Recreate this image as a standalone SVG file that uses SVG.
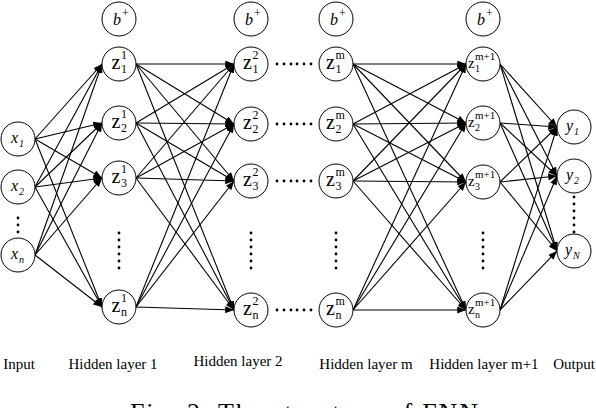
<svg xmlns="http://www.w3.org/2000/svg" width="596" height="408" viewBox="0 0 596 408">
<style>
.n{fill:#fff;stroke:#000;stroke-width:1}
.e line{stroke:#000;stroke-width:1.1;marker-end:url(#ah)}
.z{font-family:"Liberation Serif",serif;font-size:20px;fill:#000}
.zs{font-family:"Liberation Serif",serif;font-size:12px;fill:#000}
.z2{font-family:"Liberation Serif",serif;font-size:15px;fill:#000}
.zs2{font-family:"Liberation Serif",serif;font-size:11px;fill:#000}
.zs3{font-family:"Liberation Serif",serif;font-size:10px;fill:#000}
.it{font-family:"Liberation Serif",serif;font-style:italic;font-size:16px;fill:#000}
.its{font-family:"Liberation Serif",serif;font-style:italic;font-size:10px;fill:#000}
.lb{font-family:"Liberation Serif",serif;font-size:15px;fill:#000;text-anchor:middle}
.d circle{fill:#000}
</style>
<defs>
<marker id="ah" viewBox="0 0 10 8" refX="10" refY="4" markerWidth="9" markerHeight="7" markerUnits="userSpaceOnUse" orient="auto"><path d="M0,0 L10,4 L0,8 z" fill="#000"/></marker>
</defs>
<g id="connectors" class="e">
<line x1="35" y1="139" x2="102" y2="64"/><line x1="35" y1="139" x2="102" y2="123"/><line x1="35" y1="139" x2="102" y2="178"/><line x1="35" y1="139" x2="102" y2="307"/>
<line x1="35" y1="187" x2="102" y2="64"/><line x1="35" y1="187" x2="102" y2="123"/><line x1="35" y1="187" x2="102" y2="178"/><line x1="35" y1="187" x2="102" y2="307"/>
<line x1="35" y1="255" x2="102" y2="64"/><line x1="35" y1="255" x2="102" y2="123"/><line x1="35" y1="255" x2="102" y2="178"/><line x1="35" y1="255" x2="102" y2="307"/>
<line x1="136" y1="64" x2="234" y2="64"/><line x1="136" y1="64" x2="234" y2="124"/><line x1="136" y1="64" x2="234" y2="181"/><line x1="136" y1="64" x2="234" y2="310"/>
<line x1="136" y1="123" x2="234" y2="64"/><line x1="136" y1="123" x2="234" y2="124"/><line x1="136" y1="123" x2="234" y2="181"/><line x1="136" y1="123" x2="234" y2="310"/>
<line x1="136" y1="178" x2="234" y2="64"/><line x1="136" y1="178" x2="234" y2="124"/><line x1="136" y1="178" x2="234" y2="181"/><line x1="136" y1="178" x2="234" y2="310"/>
<line x1="136" y1="307" x2="234" y2="64"/><line x1="136" y1="307" x2="234" y2="124"/><line x1="136" y1="307" x2="234" y2="181"/><line x1="136" y1="307" x2="234" y2="310"/>
<line x1="353" y1="64" x2="466" y2="64"/><line x1="353" y1="64" x2="466" y2="123"/><line x1="353" y1="64" x2="466" y2="182"/><line x1="353" y1="64" x2="466" y2="310"/>
<line x1="353" y1="124" x2="466" y2="64"/><line x1="353" y1="124" x2="466" y2="123"/><line x1="353" y1="124" x2="466" y2="182"/><line x1="353" y1="124" x2="466" y2="310"/>
<line x1="353" y1="181" x2="466" y2="64"/><line x1="353" y1="181" x2="466" y2="123"/><line x1="353" y1="181" x2="466" y2="182"/><line x1="353" y1="181" x2="466" y2="310"/>
<line x1="353" y1="310" x2="466" y2="64"/><line x1="353" y1="310" x2="466" y2="123"/><line x1="353" y1="310" x2="466" y2="182"/><line x1="353" y1="310" x2="466" y2="310"/>
<line x1="500" y1="64" x2="557" y2="127"/><line x1="500" y1="64" x2="557" y2="176"/><line x1="500" y1="64" x2="557" y2="251"/>
<line x1="500" y1="123" x2="557" y2="127"/><line x1="500" y1="123" x2="557" y2="176"/><line x1="500" y1="123" x2="557" y2="251"/>
<line x1="500" y1="182" x2="557" y2="127"/><line x1="500" y1="182" x2="557" y2="176"/><line x1="500" y1="182" x2="557" y2="251"/>
<line x1="500" y1="310" x2="557" y2="127"/><line x1="500" y1="310" x2="557" y2="176"/><line x1="500" y1="310" x2="557" y2="251"/>
</g>
<g id="b1"><circle class="n" cx="119" cy="19" r="17"/><text class="it" x="113" y="25" font-size="17">b</text><text class="zs" x="122" y="17" font-size="11">+</text></g>
<g id="b2"><circle class="n" cx="251" cy="19" r="17"/><text class="it" x="245" y="25" font-size="17">b</text><text class="zs" x="254" y="17" font-size="11">+</text></g>
<g id="bm"><circle class="n" cx="336" cy="19" r="17"/><text class="it" x="330" y="25" font-size="17">b</text><text class="zs" x="339" y="17" font-size="11">+</text></g>
<g id="bm1"><circle class="n" cx="483" cy="19" r="17"/><text class="it" x="477" y="25" font-size="17">b</text><text class="zs" x="486" y="17" font-size="11">+</text></g>
<g id="x1"><circle class="n" cx="18" cy="139" r="17"/><text class="it" x="11" y="143">x</text><text class="its" x="19" y="147">1</text></g>
<g id="x2"><circle class="n" cx="18" cy="187" r="17"/><text class="it" x="11" y="191">x</text><text class="its" x="19" y="195">2</text></g>
<g id="xn"><circle class="n" cx="18" cy="255" r="17"/><text class="it" x="11" y="259">x</text><text class="its" x="19" y="263">n</text></g>
<g id="z1_1"><circle class="n" cx="119" cy="64" r="17"/><text class="z" x="111.5" y="69">z</text><text class="zs" x="121" y="59">1</text><text class="zs" x="121" y="73">1</text></g>
<g id="z2_1"><circle class="n" cx="119" cy="123" r="17"/><text class="z" x="111.5" y="128">z</text><text class="zs" x="121" y="118">1</text><text class="zs" x="121" y="132">2</text></g>
<g id="z3_1"><circle class="n" cx="119" cy="178" r="17"/><text class="z" x="111.5" y="183">z</text><text class="zs" x="121" y="173">1</text><text class="zs" x="121" y="187">3</text></g>
<g id="zn_1"><circle class="n" cx="119" cy="307" r="17"/><text class="z" x="111.5" y="312">z</text><text class="zs" x="121" y="302">1</text><text class="zs" x="121" y="316">n</text></g>
<g id="z1_2"><circle class="n" cx="251" cy="64" r="17"/><text class="z" x="243" y="69">z</text><text class="zs" x="252.5" y="59">2</text><text class="zs" x="252.5" y="73">1</text></g>
<g id="z2_2"><circle class="n" cx="251" cy="124" r="17"/><text class="z" x="243" y="129">z</text><text class="zs" x="252.5" y="119">2</text><text class="zs" x="252.5" y="133">2</text></g>
<g id="z3_2"><circle class="n" cx="251" cy="181" r="17"/><text class="z" x="243" y="186">z</text><text class="zs" x="252.5" y="176">2</text><text class="zs" x="252.5" y="190">3</text></g>
<g id="zn_2"><circle class="n" cx="251" cy="310" r="17"/><text class="z" x="243" y="315">z</text><text class="zs" x="252.5" y="305">2</text><text class="zs" x="252.5" y="319">n</text></g>
<g id="z1_m"><circle class="n" cx="336" cy="64" r="17"/><text class="z" x="326" y="69">z</text><text class="zs" x="335.5" y="59">m</text><text class="zs" x="335.5" y="73">1</text></g>
<g id="z2_m"><circle class="n" cx="336" cy="124" r="17"/><text class="z" x="326" y="129">z</text><text class="zs" x="335.5" y="119">m</text><text class="zs" x="335.5" y="133">2</text></g>
<g id="z3_m"><circle class="n" cx="336" cy="181" r="17"/><text class="z" x="326" y="186">z</text><text class="zs" x="335.5" y="176">m</text><text class="zs" x="335.5" y="190">3</text></g>
<g id="zn_m"><circle class="n" cx="336" cy="310" r="17"/><text class="z" x="326" y="315">z</text><text class="zs" x="335.5" y="305">m</text><text class="zs" x="335.5" y="319">n</text></g>
<g id="z1_m1"><circle class="n" cx="483" cy="64" r="17"/><text class="z2" x="468" y="68">z</text><text class="zs2" x="475" y="60">m+1</text><text class="zs3" x="475" y="72">1</text></g>
<g id="z2_m1"><circle class="n" cx="483" cy="123" r="17"/><text class="z2" x="468" y="127">z</text><text class="zs2" x="475" y="119">m+1</text><text class="zs3" x="475" y="131">2</text></g>
<g id="z3_m1"><circle class="n" cx="483" cy="182" r="17"/><text class="z2" x="468" y="186">z</text><text class="zs2" x="475" y="178">m+1</text><text class="zs3" x="475" y="190">3</text></g>
<g id="zn_m1"><circle class="n" cx="483" cy="310" r="17"/><text class="z2" x="468" y="314">z</text><text class="zs2" x="475" y="306">m+1</text><text class="zs3" x="475" y="318">n</text></g>
<g id="y1"><circle class="n" cx="574" cy="127" r="17"/><text class="it" x="566" y="131">y</text><text class="its" x="574" y="135">1</text></g>
<g id="y2"><circle class="n" cx="574" cy="176" r="17"/><text class="it" x="566" y="180">y</text><text class="its" x="574" y="184">2</text></g>
<g id="yN"><circle class="n" cx="574" cy="251" r="17"/><text class="it" x="565" y="255">y</text><text class="its" x="573" y="259">N</text></g>
<g class="d">
<circle cx="18" cy="218" r="1.4"/><circle cx="18" cy="225" r="1.4"/><circle cx="18" cy="232" r="1.4"/>
<circle cx="574" cy="197" r="1.4"/><circle cx="574" cy="204" r="1.4"/><circle cx="574" cy="211" r="1.4"/><circle cx="574" cy="218" r="1.4"/><circle cx="574" cy="225" r="1.4"/><circle cx="574" cy="232" r="1.4"/>
<circle cx="119" cy="233" r="1.4"/><circle cx="119" cy="240" r="1.4"/><circle cx="119" cy="247" r="1.4"/><circle cx="119" cy="254" r="1.4"/><circle cx="119" cy="261" r="1.4"/><circle cx="119" cy="268" r="1.4"/>
<circle cx="251" cy="233" r="1.4"/><circle cx="251" cy="240" r="1.4"/><circle cx="251" cy="247" r="1.4"/><circle cx="251" cy="254" r="1.4"/><circle cx="251" cy="261" r="1.4"/><circle cx="251" cy="268" r="1.4"/>
<circle cx="336" cy="233" r="1.4"/><circle cx="336" cy="240" r="1.4"/><circle cx="336" cy="247" r="1.4"/><circle cx="336" cy="254" r="1.4"/><circle cx="336" cy="261" r="1.4"/><circle cx="336" cy="268" r="1.4"/>
<circle cx="483" cy="233" r="1.4"/><circle cx="483" cy="240" r="1.4"/><circle cx="483" cy="247" r="1.4"/><circle cx="483" cy="254" r="1.4"/><circle cx="483" cy="261" r="1.4"/><circle cx="483" cy="268" r="1.4"/>
<circle cx="277" cy="64" r="1.4"/><circle cx="284" cy="64" r="1.4"/><circle cx="291" cy="64" r="1.4"/><circle cx="297" cy="64" r="1.4"/><circle cx="304" cy="64" r="1.4"/><circle cx="311" cy="64" r="1.4"/>
<circle cx="277" cy="124" r="1.4"/><circle cx="284" cy="124" r="1.4"/><circle cx="291" cy="124" r="1.4"/><circle cx="297" cy="124" r="1.4"/><circle cx="304" cy="124" r="1.4"/><circle cx="311" cy="124" r="1.4"/>
<circle cx="277" cy="181" r="1.4"/><circle cx="284" cy="181" r="1.4"/><circle cx="291" cy="181" r="1.4"/><circle cx="297" cy="181" r="1.4"/><circle cx="304" cy="181" r="1.4"/><circle cx="311" cy="181" r="1.4"/>
<circle cx="277" cy="310" r="1.4"/><circle cx="284" cy="310" r="1.4"/><circle cx="291" cy="310" r="1.4"/><circle cx="297" cy="310" r="1.4"/><circle cx="304" cy="310" r="1.4"/><circle cx="311" cy="310" r="1.4"/>
</g>
<g id="labels">
<text class="lb" x="19" y="369">Input</text>
<text class="lb" x="113" y="369">Hidden layer 1</text>
<text class="lb" x="238" y="366">Hidden layer 2</text>
<text class="lb" x="366" y="369">Hidden layer m</text>
<text class="lb" x="484" y="369">Hidden layer m+1</text>
<text class="lb" x="574" y="369">Output</text>
<text x="304" y="421" text-anchor="middle" font-family="'Liberation Serif',serif" font-size="26" textLength="348" lengthAdjust="spacing" fill="#000">Fig. 2. The structure of FNN</text>
</g>
</svg>
